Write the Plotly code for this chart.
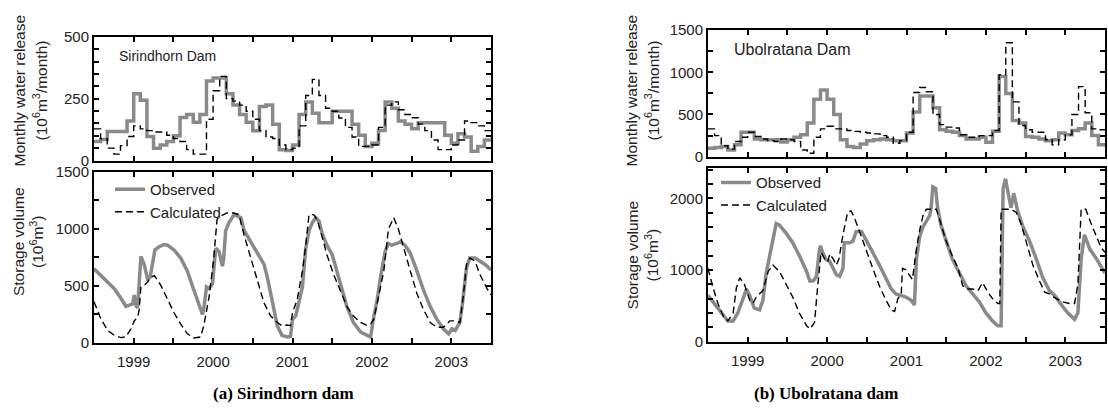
import numpy as np
import plotly.graph_objects as go

# ---------------- data ----------------
months = list(range(61))  # month index from Jan 1999 (0) to Jan 2004 (60)
year_ticks = [6, 18, 30, 42, 54]
year_labels = ["1999", "2000", "2001", "2002", "2003"]

# Sirindhorn monthly release (10^6 m3/month)
sir_rel_obs = [77, 85, 117, 117, 117, 160, 270, 244, 97, 50, 63, 77, 100, 174, 186, 155, 186, 321, 334, 334,
               270, 224, 186, 155, 120, 218, 224, 147, 44, 40, 63, 186, 237, 191, 153, 153, 199, 199, 199, 147,
               102, 57, 70, 121, 237, 211, 160, 147, 128, 153, 153, 153, 153, 102, 70, 108, 95, 37, 57, 83]
sir_rel_cal = [128, 88, 50, 26, 60, 97, 140, 128, 121, 115, 115, 102, 89, 77, 44, 26, 26, 167, 282, 340,
               250, 240, 224, 199, 167, 121, 95, 89, 63, 44, 50, 140, 263, 328, 263, 211, 199, 172, 134, 95,
               57, 57, 63, 134, 224, 237, 205, 186, 173, 147, 121, 83, 44, 44, 63, 83, 160, 153, 140, 121]

# Sirindhorn storage (10^6 m3), time in months from Jan 1999
sir_sto_obs_t = [0.0, 1.06, 2.06, 3.07, 4.07, 4.82, 5.33, 5.83, 6.08, 6.33, 6.58, 7.09, 7.59, 8.09, 8.49, 8.84,
                 9.2, 9.85, 10.6, 11.1, 12.1, 13.1, 14.1, 15.1, 15.9, 16.4, 16.6, 17.0, 17.4, 17.9, 18.4, 18.9,
                 19.4, 19.6, 19.9, 20.4, 21.2, 21.8, 22.2, 22.7, 23.7, 24.7, 25.7, 26.2, 26.9, 27.7, 28.4, 29.2,
                 29.7, 30.0, 30.5, 31.0, 31.5, 32.0, 32.5, 33.0, 33.5, 34.0, 34.5, 35.2, 36.0, 36.7, 37.5, 38.2,
                 39.2, 40.3, 41.3, 41.8, 42.3, 42.8, 43.3, 44.0, 44.5, 45.0, 45.8, 46.3, 47.0, 47.8, 48.8, 49.8,
                 50.8, 51.8, 52.8, 53.6, 54.1, 54.6, 55.3, 55.7, 56.3, 56.8, 57.6, 58.3, 59.1, 60.0]
sir_sto_obs_v = [650, 589, 532, 475, 390, 320, 330, 340, 419, 330, 305, 758, 688, 560, 575, 688,
                 815, 843, 863, 857, 815, 744, 631, 461, 320, 249, 300, 490, 475, 518, 829, 801,
                 673, 744, 985, 1055, 1126, 1112, 1098, 985, 886, 801, 688, 575, 376, 150, 65, 51,
                 55, 207, 235, 348, 490, 829, 985, 1055, 1098, 1070, 957, 857, 773, 631, 461, 320,
                 178, 93, 65, 51, 235, 376, 575, 801, 872, 857, 872, 886, 857, 787, 631, 461,
                 320, 207, 122, 79, 122, 108, 178, 348, 660, 744, 744, 716, 688, 640]
sir_sto_cal_t = [0.0, 1.06, 2.06, 3.07, 4.07, 4.82, 5.58, 6.08, 6.58, 6.83, 7.09, 7.59, 8.09, 8.59, 9.1, 9.3,
                 10.1, 11.1, 12.1, 13.1, 14.1, 15.1, 16.1, 16.6, 17.4, 18.1, 18.6, 19.1, 19.6, 20.1, 21.1, 21.9,
                 22.7, 23.7, 24.7, 25.7, 26.7, 27.7, 28.4, 29.2, 29.7, 30.0, 30.7, 31.5, 32.0, 32.5, 33.2, 33.7,
                 34.5, 35.2, 36.2, 37.2, 38.2, 39.2, 40.3, 41.3, 41.8, 42.3, 43.0, 43.8, 44.5, 45.3, 46.0, 46.8,
                 47.8, 48.8, 49.8, 50.8, 51.8, 52.8, 53.8, 54.6, 55.3, 55.8, 56.3, 56.8, 57.6, 58.3, 59.4, 60.0]
sir_sto_cal_v = [360, 207, 108, 65, 45, 51, 122, 192, 221, 291, 490, 504, 532, 575, 589, 575,
                 504, 376, 263, 164, 79, 42, 51, 150, 405, 744, 1084, 1112, 1126, 1140, 1140, 1126,
                 942, 744, 546, 348, 235, 178, 150, 156, 150, 263, 376, 631, 857, 1126, 1126, 1084,
                 928, 773, 603, 461, 320, 235, 178, 150, 164, 207, 405, 631, 999, 1098, 999, 829,
                 631, 433, 291, 178, 136, 136, 192, 192, 178, 405, 688, 744, 716, 603, 475, 420]

# Ubolratana monthly release (10^6 m3/month)
ubo_rel_obs = [100, 110, 120, 80, 140, 290, 290, 210, 200, 200, 200, 175, 200, 230, 260, 400, 680, 790, 680, 500,
               200, 120, 110, 150, 190, 200, 210, 200, 190, 190, 280, 530, 720, 720, 580, 320, 300, 290, 250, 210,
               210, 230, 170, 300, 950, 750, 430, 400, 240, 230, 210, 190, 200, 280, 260, 310, 330, 400, 250, 140]
ubo_rel_cal = [330, 250, 130, 90, 180, 230, 290, 240, 210, 190, 180, 210, 200, 180, 80, 40, 230, 330, 360, 330,
               330, 310, 300, 290, 280, 270, 250, 230, 160, 190, 290, 760, 820, 770, 500, 380, 350, 340, 260, 230,
               230, 250, 250, 310, 970, 1350, 650, 370, 320, 290, 290, 200, 140, 200, 260, 500, 830, 520, 330, 320]

# Ubolratana storage (10^6 m3)
ubo_sto_obs_t = [0.0, 0.75, 1.5, 2.3, 3.0, 3.8, 4.5, 5.3, 5.8, 6.3, 7.0, 7.8, 8.3, 8.8, 9.3, 9.8,
                 10.3, 10.8, 11.8, 12.8, 13.8, 14.9, 15.4, 15.9, 16.4, 16.8, 17.0, 17.3, 17.8, 18.4, 18.9, 19.4,
                 19.9, 20.4, 20.6, 21.4, 21.9, 22.4, 23.2, 23.9, 24.9, 25.9, 26.9, 27.7, 28.4, 29.2, 29.9, 30.7,
                 31.2, 31.5, 32.0, 32.5, 33.0, 33.5, 33.7, 33.98, 34.4, 34.7, 35.2, 35.9, 36.9, 38.0, 39.0, 40.0,
                 41.0, 42.0, 43.0, 43.8, 44.3, 44.6, 44.97, 45.5, 45.8, 46.2, 46.8, 47.6, 48.6, 49.6, 50.6, 51.6,
                 52.6, 53.6, 54.4, 55.4, 55.9, 56.4, 56.9, 57.7, 58.7, 60.0]
ubo_sto_obs_v = [646, 557, 468, 356, 290, 290, 401, 601, 735, 646, 468, 445, 579, 958, 1203, 1425,
                 1648, 1626, 1514, 1381, 1203, 980, 846, 846, 913, 1250, 1340, 1250, 1150, 1120, 1024, 935,
                 913, 1024, 1381, 1381, 1403, 1537, 1537, 1425, 1247, 1069, 891, 735, 668, 646, 624, 579,
                 512, 1158, 1470, 1603, 1693, 1759, 1848, 2160, 2138, 1871, 1626, 1425, 1158, 958, 779, 668,
                 557, 401, 290, 223, 223, 2138, 2272, 2004, 1871, 2071, 1826, 1603, 1403, 1158, 891, 713,
                 624, 490, 401, 312, 401, 1158, 1492, 1292, 1158, 958]
ubo_sto_cal_t = [0.0, 0.75, 1.5, 2.3, 3.0, 3.8, 4.3, 4.8, 5.5, 6.3, 6.8, 7.3, 8.3, 9.1, 9.8, 10.8,
                 11.8, 12.8, 13.8, 14.9, 15.4, 16.1, 16.6, 17.1, 17.6, 18.1, 18.4, 18.9, 19.4, 19.8, 20.4, 21.1,
                 21.6, 22.1, 22.9, 23.9, 24.9, 25.9, 26.9, 27.7, 28.2, 28.7, 29.2, 29.4, 29.9, 30.9, 31.5, 32.0,
                 32.5, 33.0, 34.5, 35.2, 35.9, 36.9, 37.8, 38.5, 39.3, 40.0, 40.8, 41.5, 42.3, 43.0, 43.8, 44.1,
                 44.3, 45.8, 46.6, 47.3, 48.1, 49.1, 50.1, 50.9, 51.6, 52.6, 53.6, 54.6, 55.4, 55.9, 56.4, 57.1,
                 57.9, 58.7, 59.4, 60.0]
ubo_sto_cal_v = [1024, 757, 534, 356, 290, 401, 757, 891, 802, 579, 534, 624, 713, 980, 1069, 980,
                 802, 624, 401, 223, 178, 267, 802, 1247, 1158, 1114, 1225, 1158, 1069, 1158, 1492, 1804,
                 1826, 1737, 1537, 1269, 1024, 779, 579, 445, 423, 601, 668, 1024, 1002, 869, 1292, 1559,
                 1759, 1848, 1848, 1648, 1425, 1203, 1024, 779, 735, 735, 713, 824, 690, 601, 534, 534,
                 1848, 1848, 1804, 1648, 1381, 1069, 846, 690, 668, 601, 557, 534, 534, 802, 1848, 1848,
                 1648, 1470, 1314, 1247]

# ---------------- styling ----------------
GRAY = "#8a8a8a"
W, H = 1108, 414
FONT = "Liberation Sans"


def px_x(p):
    return p / W


def px_y(p):
    return 1 - p / H


def step(vals):
    return list(vals) + [vals[-1]]


fig = go.Figure()

obs_style = dict(color=GRAY, width=3.5)
cal_style = dict(color="black", width=1.4, dash="7px,4px")

# left top (release)
fig.add_trace(go.Scatter(x=months, y=step(sir_rel_obs), mode="lines", line=dict(shape="hv", **obs_style),
                         xaxis="x", yaxis="y", showlegend=False))
fig.add_trace(go.Scatter(x=months, y=step(sir_rel_cal), mode="lines", line=dict(shape="hv", **cal_style),
                         xaxis="x", yaxis="y", showlegend=False))
# left bottom (storage)
fig.add_trace(go.Scatter(x=sir_sto_obs_t, y=sir_sto_obs_v, mode="lines", line=obs_style, name="Observed",
                         xaxis="x2", yaxis="y2", legend="legend"))
fig.add_trace(go.Scatter(x=sir_sto_cal_t, y=sir_sto_cal_v, mode="lines", line=cal_style, name="Calculated",
                         xaxis="x2", yaxis="y2", legend="legend"))
# right top (release)
fig.add_trace(go.Scatter(x=months, y=step(ubo_rel_obs), mode="lines", line=dict(shape="hv", **obs_style),
                         xaxis="x3", yaxis="y3", showlegend=False))
fig.add_trace(go.Scatter(x=months, y=step(ubo_rel_cal), mode="lines", line=dict(shape="hv", **cal_style),
                         xaxis="x3", yaxis="y3", showlegend=False))
# right bottom (storage)
fig.add_trace(go.Scatter(x=ubo_sto_obs_t, y=ubo_sto_obs_v, mode="lines", line=obs_style, name="Observed",
                         xaxis="x4", yaxis="y4", legend="legend2"))
fig.add_trace(go.Scatter(x=ubo_sto_cal_t, y=ubo_sto_cal_v, mode="lines", line=cal_style, name="Calculated",
                         xaxis="x4", yaxis="y4", legend="legend2"))

common = dict(showline=True, linecolor="black", linewidth=2, mirror="allticks", ticks="inside",
              ticklen=5, tickwidth=1.5, tickcolor="black", showgrid=False, zeroline=False,
              tickfont=dict(family=FONT, size=15, color="#222"))


def xax(domain, anchor, labels):
    d = dict(common)
    d.update(domain=domain, anchor=anchor, range=[0, 60], tickmode="array", tickvals=year_ticks,
             ticktext=year_labels, showticklabels=labels, ticklabelstandoff=4,
             minor=dict(ticks="inside", ticklen=5, tickwidth=1.5, tickcolor="black", tickmode="array",
                        tickvals=[12, 24, 36, 48], showgrid=False))
    return d


def yax(domain, anchor, rng, tickvals, mdt):
    d = dict(common)
    d.update(domain=domain, anchor=anchor, range=rng, tickmode="array", tickvals=tickvals,
             minor=dict(ticks="inside", ticklen=5, tickwidth=1.5, tickcolor="black", dtick=mdt, tick0=0,
                        showgrid=False))
    return d


LX = [px_x(94), px_x(491)]
RX = [px_x(708), px_x(1105)]

fig.update_layout(
    width=W, height=H, margin=dict(l=0, r=0, t=0, b=0),
    paper_bgcolor="white", plot_bgcolor="white",
    xaxis=xax(LX, "y", False),
    yaxis=yax([px_y(158), px_y(29)], "x", [0, 500], [0, 250, 500], 50),
    xaxis2=xax(LX, "y2", True),
    yaxis2=yax([px_y(348), px_y(170)], "x2", [0, 1500], [0, 500, 1000, 1500], 250),
    xaxis3=xax(RX, "y3", False),
    yaxis3=yax([px_y(154), px_y(22)], "x3", [0, 1500], [0, 500, 1000, 1500], 250),
    xaxis4=xax(RX, "y4", True),
    yaxis4=yax([px_y(347), px_y(166)], "x4", [0, 2420], [0, 1000, 2000], 200),
    legend=dict(x=px_x(110), y=px_y(171), xanchor="left", yanchor="top", bgcolor="rgba(0,0,0,0)",
                font=dict(family=FONT, size=15, color="#222"), tracegroupgap=0),
    legend2=dict(x=px_x(716), y=px_y(164), xanchor="left", yanchor="top", bgcolor="rgba(0,0,0,0)",
                 font=dict(family=FONT, size=15, color="#222"), tracegroupgap=0),
    showlegend=True,
)

annotations = [
    dict(text="Sirindhorn Dam", x=px_x(117), y=px_y(49), xanchor="left", size=14),
    dict(text="Ubolratana Dam", x=px_x(732), y=px_y(42), xanchor="left", size=16),
    dict(text="Monthly water release", x=px_x(20), y=px_y(85), textangle=-90),
    dict(text="(10<sup>6</sup>m<sup>3</sup>/month)", x=px_x(40), y=px_y(85), textangle=-90),
    dict(text="Storage volume", x=px_x(18), y=px_y(243), textangle=-90),
    dict(text="(10<sup>6</sup>m<sup>3</sup>)", x=px_x(37), y=px_y(243), textangle=-90),
    dict(text="Monthly water release", x=px_x(632), y=px_y(85), textangle=-90),
    dict(text="(10<sup>6</sup>m<sup>3</sup>/month)", x=px_x(652), y=px_y(85), textangle=-90),
    dict(text="Storage volume", x=px_x(632), y=px_y(257), textangle=-90),
    dict(text="(10<sup>6</sup>m<sup>3</sup>)", x=px_x(652), y=px_y(257), textangle=-90),
]
for a in annotations:
    a.setdefault("xanchor", "center")
    a.setdefault("yanchor", "middle")
    size = a.pop("size", 15.5)
    fig.add_annotation(xref="paper", yref="paper", showarrow=False,
                       font=dict(family=FONT, size=size, color="#222"), **a)

cap_font = dict(family="Liberation Serif", size=17, color="black")
fig.add_annotation(text="<b>(a) Sirindhorn dam</b>", x=px_x(283), y=px_y(401), xref="paper", yref="paper",
                   xanchor="center", yanchor="middle", showarrow=False, font=cap_font)
fig.add_annotation(text="<b>(b) Ubolratana dam</b>", x=px_x(826), y=px_y(401), xref="paper", yref="paper",
                   xanchor="center", yanchor="middle", showarrow=False, font=cap_font)

# remove the browser's default page margin so the figure fills the window exactly
fig.write_html("out.html", config={"displayModeBar": False},
               post_script="document.body.style.margin='0';document.body.style.overflow='hidden';"
                           "document.documentElement.style.overflow='hidden';")
